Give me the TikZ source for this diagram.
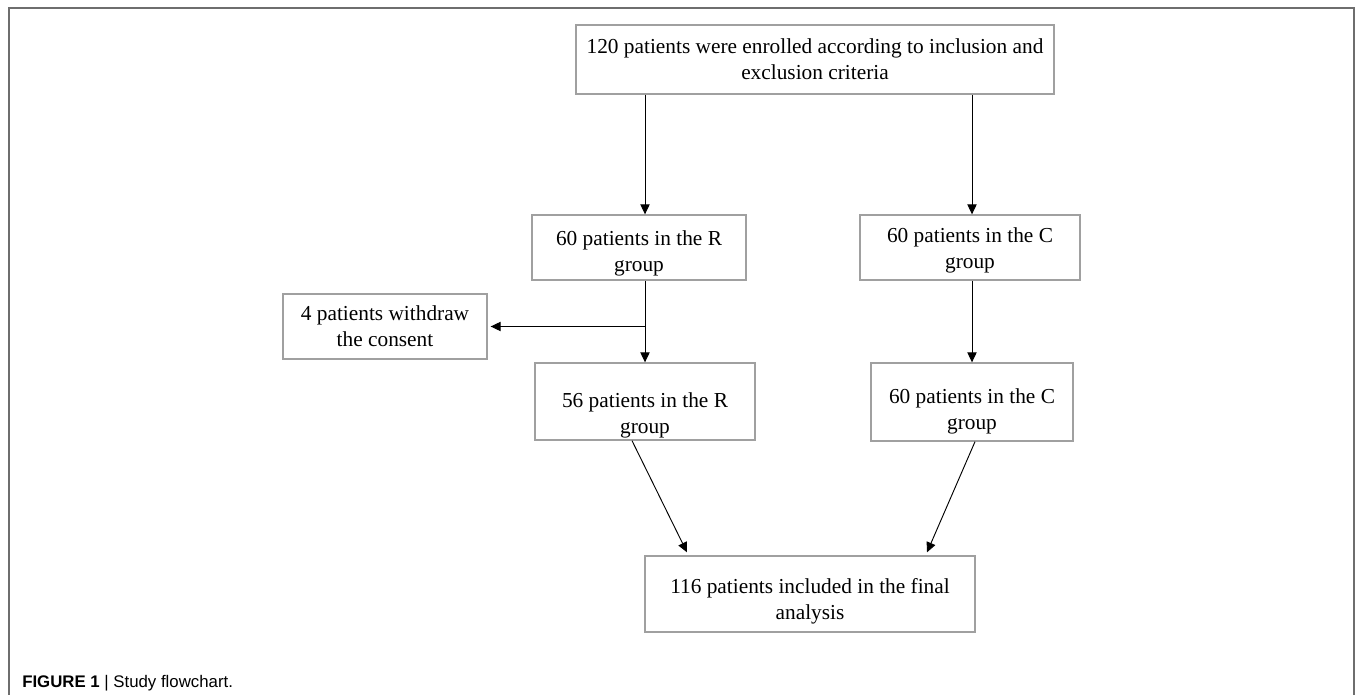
\documentclass[tikz,border=0pt]{standalone}
\usepackage{fontspec}
\setmainfont{Liberation Serif}
\newfontfamily\capfont{Liberation Sans}
\usetikzlibrary{arrows.meta,calc,positioning}
\definecolor{boxgray}{RGB}{160,160,160}
\definecolor{framegray}{RGB}{110,110,110}
\newcommand{\textdrop}[1]{\rule{0pt}{#1}}

\begin{document}
\begin{tikzpicture}[x=0.75pt,y=-0.75pt,>={Triangle[length=7.5pt,width=7pt]},
    box/.style={draw=boxgray,line width=1pt,align=center,inner sep=0pt,
                font=\fontsize{16}{19.5}\selectfont},
    arr/.style={->,line width=0.7pt}]

  \useasboundingbox (0,0) rectangle (1355,695);
  \draw[framegray,line width=1.1pt] (9,695) -- (9,8) -- (1354,8) -- (1354,695);

  \node[box,minimum width=358.5pt,minimum height=51.75pt] (enrol) at (815,59.5)
       {120 patients were enrolled according to inclusion and\\exclusion criteria};
  \node[box,minimum width=160.5pt,minimum height=48.75pt] (rone) at (639,247.5)
       {\textdrop{19.8pt}60 patients in the R\\group};
  \node[box,minimum width=165pt,minimum height=48.75pt] (cone) at (970,247.5)
       {\textdrop{15.3pt}60 patients in the C\\group};
  \node[box,minimum width=153pt,minimum height=48.75pt] (withdraw) at (385,326.5)
       {4 patients withdraw\\the consent};
  \node[box,minimum width=165pt,minimum height=57.75pt] (rtwo) at (645,401.5)
       {\textdrop{31.8pt}56 patients in the R\\group};
  \node[box,minimum width=151.5pt,minimum height=58.5pt] (ctwo) at (972,402)
       {\textdrop{25.8pt}60 patients in the C\\group};
  \node[box,minimum width=247.5pt,minimum height=57pt] (final) at (810,594)
       {\textdrop{22.8pt}116 patients included in the final\\analysis};

  \node[anchor=west,inner sep=0pt,font=\capfont\fontsize{12.6}{15}\selectfont] (caption)
       at (22,683) {\textbf{FIGURE 1} | Study flowchart.};

  % ends of the slanted arrows
  \coordinate (rout) at ($(rtwo.south)+(-13,0)$);
  \coordinate (rin) at ($(final.north)+(-123,-3)$);
  \coordinate (cout) at ($(ctwo.south)+(3,0)$);
  \coordinate (cin) at ($(final.north)+(117,-3)$);

  \draw[arr] (enrol.south -| rtwo.north) -- (rone.north -| rtwo.north);
  \draw[arr] (enrol.south -| ctwo.north) -- (cone.north -| ctwo.north);
  \draw[arr] (rone.south -| rtwo.north) -- (rtwo.north);
  \draw[arr,shorten >=2.25pt] (withdraw.east -| rtwo.north) -- (withdraw.east);
  \draw[arr] (cone.south -| ctwo.north) -- (ctwo.north);
  \draw[arr] (rout) -- (rin);
  \draw[arr] (cout) -- (cin);
\end{tikzpicture}
\end{document}
